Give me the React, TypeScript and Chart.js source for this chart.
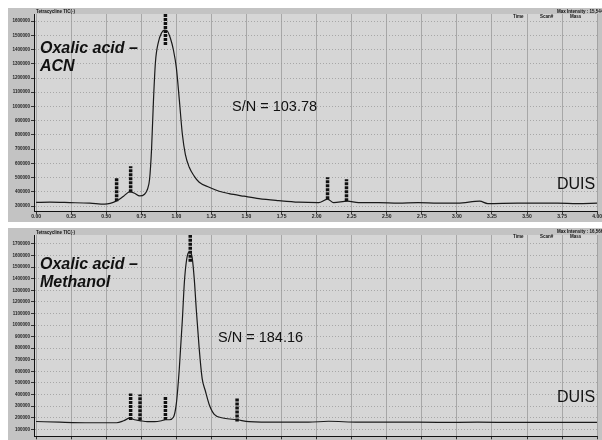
import React, { useEffect, useRef } from "react";
import { Chart, registerables } from "chart.js";

Chart.register(...registerables);

// ---------- data ----------
const xTickValues = [0, 0.25, 0.5, 0.75, 1.0, 1.25, 1.5, 1.75, 2.0, 2.25, 2.5, 2.75, 3.0, 3.25, 3.5, 3.75, 4.0];

const topYTicks = [300000, 400000, 500000, 600000, 700000, 800000, 900000, 1000000, 1100000, 1200000, 1300000, 1400000, 1500000, 1600000];
const bottomYTicks = [100000, 200000, 300000, 400000, 500000, 600000, 700000, 800000, 900000, 1000000, 1100000, 1200000, 1300000, 1400000, 1500000, 1600000, 1700000];

const topTimes = [0.0, 0.099, 0.241, 0.383, 0.489, 0.574, 0.624, 0.667, 0.702, 0.738, 0.773, 0.794, 0.809, 0.823, 0.837, 0.851, 0.872, 0.894, 0.915, 0.936, 0.957, 0.979, 1.0, 1.021, 1.043, 1.064, 1.092, 1.128, 1.163, 1.234, 1.305, 1.376, 1.482, 1.589, 1.73, 1.872, 2.014, 2.078, 2.121, 2.22, 2.298, 2.44, 2.582, 2.723, 2.865, 3.007, 3.163, 3.22, 3.433, 3.574, 3.716, 3.858, 4.0];
const topIntensity = [325000, 327000, 324000, 320000, 313000, 336000, 369000, 399000, 390000, 371000, 383000, 418000, 488000, 698000, 1048000, 1313000, 1453000, 1516000, 1537000, 1530000, 1481000, 1397000, 1271000, 1048000, 803000, 663000, 572000, 509000, 467000, 432000, 404000, 387000, 369000, 352000, 338000, 327000, 324000, 348000, 324000, 334000, 324000, 324000, 320000, 324000, 320000, 320000, 334000, 317000, 320000, 320000, 320000, 317000, 320000];

const bottomTimes = [0.0, 0.17, 0.383, 0.574, 0.624, 0.667, 0.702, 0.738, 0.794, 0.844, 0.894, 0.922, 0.95, 0.979, 1.0, 1.021, 1.043, 1.057, 1.071, 1.085, 1.099, 1.113, 1.128, 1.142, 1.163, 1.184, 1.206, 1.234, 1.27, 1.34, 1.433, 1.518, 1.73, 1.943, 2.085, 2.298, 2.582, 2.865, 3.149, 3.433, 3.716, 4.0];
const bottomIntensity = [167500, 161500, 157000, 157000, 174000, 196000, 183000, 176000, 166000, 166000, 174000, 183000, 183000, 204000, 324000, 623000, 1050000, 1367000, 1546000, 1623000, 1632000, 1580000, 1392000, 1136000, 794000, 538000, 435000, 315000, 230000, 196000, 183000, 166000, 161500, 161500, 170000, 161500, 163000, 160000, 162000, 160000, 161000, 160000];

const topMarkerTimes = [0.574, 0.674, 0.922, 2.078, 2.213];
const topMarkerBase = [334000, 397000, 1432000, 348000, 334000];
const topMarkerTip = [502000, 579000, 1700000, 502000, 488000];

const bottomMarkerTimes = [0.674, 0.741, 0.922, 1.099, 1.433];
const bottomMarkerBase = [181000, 178600, 181000, 1546000, 167500];
const bottomMarkerTip = [409000, 401000, 381000, 1800000, 367000];

const topTitle = ["Oxalic acid –", "ACN"];
const bottomTitle = ["Oxalic acid –", "Methanol"];
const topSN = "S/N = 103.78";
const bottomSN = "S/N = 184.16";
const modeLabel = "DUIS";
const traceLabel = "Tetracycline TIC(-)";
const topMaxLabel = "Max Intensity : 15,544,5";
const bottomMaxLabel = "Max Intensity : 16,566,3";
const headerCols = ["Time", "Scan#", "Mass"];

const FONT = "'Liberation Sans', Arial, sans-serif";

type TextItem = { text: string; x: number; y: number; font: string; align?: CanvasTextAlign };

const bgPlugin = {
  id: "panelBg",
  beforeDraw(chart: any) {
    const { ctx, chartArea } = chart;
    ctx.save();
    ctx.fillStyle = "#c3c3c3";
    ctx.fillRect(0, 0, chart.width, chart.height);
    ctx.fillStyle = "#d6d6d6";
    ctx.fillRect(chartArea.left, chartArea.top, chartArea.right - chartArea.left, chartArea.bottom - chartArea.top);
    ctx.restore();
  },
};

const textPlugin = {
  id: "panelText",
  afterDraw(chart: any, _args: any, opts: any) {
    const { ctx } = chart;
    const items: TextItem[] = opts.items || [];
    ctx.save();
    ctx.fillStyle = "#111";
    ctx.textBaseline = "middle";
    for (const it of items) {
      ctx.font = it.font;
      ctx.textAlign = it.align || "left";
      ctx.fillText(it.text, it.x, it.y);
    }
    ctx.restore();
  },
};

function buildChart(
  canvas: HTMLCanvasElement,
  times: number[],
  values: number[],
  mTimes: number[],
  mBase: number[],
  mTip: number[],
  yMin: number,
  yMax: number,
  yTicks: number[],
  padTop: number,
  xAxisHeight: number,
  texts: TextItem[]
) {
  const trace = times.map((t, i) => ({ x: t, y: values[i] }));
  const markerSets = mTimes.map((t, i) => ({
    data: [
      { x: t, y: mBase[i] },
      { x: t, y: mTip[i] },
    ],
    borderColor: "#111",
    borderWidth: 3.5,
    borderDash: [3, 1],
    borderCapStyle: "butt",
    pointRadius: 0,
    fill: false,
  }));
  return new Chart(canvas, {
    type: "line",
    data: {
      datasets: [
        {
          data: trace,
          borderColor: "#1a1a1a",
          borderWidth: 1.2,
          pointRadius: 0,
          fill: false,
          cubicInterpolationMode: "monotone",
        },
        ...markerSets,
      ] as any,
    },
    options: {
      animation: false,
      responsive: false,
      maintainAspectRatio: false,
      layout: { padding: { top: padTop, right: 2, left: 0, bottom: 0 } },
      plugins: {
        legend: { display: false },
        tooltip: { enabled: false },
        panelText: { items: texts },
      } as any,
      scales: {
        x: {
          type: "linear",
          min: -0.015,
          max: 4,
          afterBuildTicks: (s: any) => {
            s.ticks = xTickValues.map((v) => ({ value: v }));
          },
          afterFit: (s: any) => {
            s.height = xAxisHeight;
          },
          ticks: {
            autoSkip: false,
            maxRotation: 0,
            padding: 0,
            color: "#222",
            font: { size: 5, weight: "bold", family: FONT },
            callback: (v: any) => Number(v).toFixed(2),
          },
          grid: { color: "#9a9a9a", lineWidth: 0.8, tickLength: 3, tickColor: "#111" },
          border: { color: "#111", width: 1 },
        },
        y: {
          type: "linear",
          min: yMin,
          max: yMax,
          afterBuildTicks: (s: any) => {
            s.ticks = yTicks.map((v) => ({ value: v }));
          },
          afterFit: (s: any) => {
            s.width = 26;
          },
          ticks: {
            autoSkip: false,
            padding: 1,
            color: "#222",
            font: { size: 4.5, weight: "bold", family: FONT },
            callback: (v: any) => String(v),
          },
          grid: { color: "#9a9a9a", lineWidth: 0.8, tickLength: 3, tickColor: "#111" },
          border: { color: "#111", width: 1, dash: [1, 2] },
        },
      },
    } as any,
    plugins: [bgPlugin, textPlugin],
  });
}

function Panel(props: {
  height: number;
  times: number[];
  values: number[];
  mTimes: number[];
  mBase: number[];
  mTip: number[];
  yMin: number;
  yMax: number;
  yTicks: number[];
  padTop: number;
  xAxisHeight: number;
  texts: TextItem[];
  style?: React.CSSProperties;
}) {
  const ref = useRef<HTMLCanvasElement | null>(null);
  useEffect(() => {
    if (!ref.current) return;
    const c = buildChart(
      ref.current,
      props.times,
      props.values,
      props.mTimes,
      props.mBase,
      props.mTip,
      props.yMin,
      props.yMax,
      props.yTicks,
      props.padTop,
      props.xAxisHeight,
      props.texts
    );
    return () => c.destroy();
  }, []);
  return (
    <div style={{ width: 594, height: props.height, ...props.style }}>
      <canvas ref={ref} width={594} height={props.height} style={{ display: "block" }} />
    </div>
  );
}

export default function App() {
  useEffect(() => {
    document.documentElement.style.overflow = "hidden";
    document.body.style.overflow = "hidden";
  }, []);
  const boldItal = `italic bold 16px ${FONT}`;
  const snFont = `14.5px ${FONT}`;
  const duisFont = `16px ${FONT}`;
  const tiny = `bold 4.5px ${FONT}`;
  const topTexts: TextItem[] = [
    { text: topTitle[0], x: 32, y: 41, font: boldItal },
    { text: topTitle[1], x: 32, y: 59, font: boldItal },
    { text: topSN, x: 224, y: 99, font: snFont },
    { text: modeLabel, x: 549, y: 177, font: duisFont },
    { text: traceLabel, x: 28, y: 3.5, font: tiny },
    { text: topMaxLabel, x: 549, y: 4, font: tiny },
    { text: headerCols[0], x: 505, y: 9, font: tiny },
    { text: headerCols[1], x: 532, y: 9, font: tiny },
    { text: headerCols[2], x: 562, y: 9, font: tiny },
  ];
  const bottomTexts: TextItem[] = [
    { text: bottomTitle[0], x: 32, y: 37, font: boldItal },
    { text: bottomTitle[1], x: 32, y: 55, font: boldItal },
    { text: bottomSN, x: 210, y: 110, font: snFont },
    { text: modeLabel, x: 549, y: 170, font: duisFont },
    { text: traceLabel, x: 28, y: 4.5, font: tiny },
    { text: bottomMaxLabel, x: 549, y: 4, font: tiny },
    { text: headerCols[0], x: 505, y: 9, font: tiny },
    { text: headerCols[1], x: 532, y: 9, font: tiny },
    { text: headerCols[2], x: 562, y: 9, font: tiny },
  ];
  return (
    <div style={{ position: "absolute", left: 8, top: 8, width: 594, height: 432, overflow: "hidden" }}>
      <Panel
        height={214}
        times={topTimes}
        values={topIntensity}
        mTimes={topMarkerTimes}
        mBase={topMarkerBase}
        mTip={topMarkerTip}
        yMin={265000}
        yMax={1650000}
        yTicks={topYTicks}
        padTop={6}
        xAxisHeight={11}
        texts={topTexts}
      />
      <Panel
        height={212}
        times={bottomTimes}
        values={bottomIntensity}
        mTimes={bottomMarkerTimes}
        mBase={bottomMarkerBase}
        mTip={bottomMarkerTip}
        yMin={40000}
        yMax={1777000}
        yTicks={bottomYTicks}
        padTop={7}
        xAxisHeight={3}
        texts={bottomTexts}
        style={{ marginTop: 6 }}
      />
    </div>
  );
}
